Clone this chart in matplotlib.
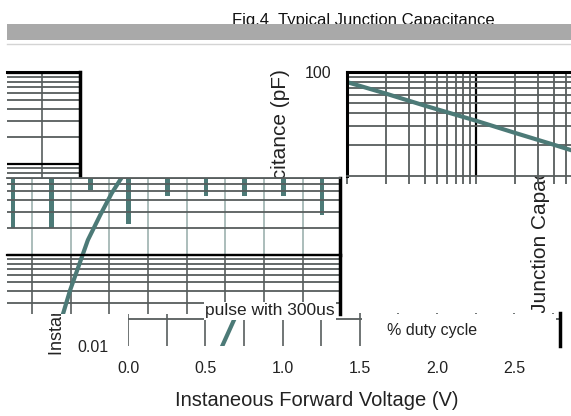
import numpy as np
import matplotlib.pyplot as plt
from matplotlib.patches import Rectangle
from matplotlib.lines import Line2D
from matplotlib.ticker import LogLocator, MultipleLocator, FixedLocator, NullFormatter

plt.rcParams['font.family'] = ['Liberation Sans', 'DejaVu Sans']

# Fig.4 junction capacitance vs reverse voltage
vr = [1, 2, 4, 10, 20, 40, 100]
cj = [80, 62, 47.5, 34, 26, 20, 14]

# forward characteristic (the sheet's broken forward-voltage chart)
vf = [0.61, 0.69, 0.745, 0.81, 0.86, 0.94, 1.015, 1.09]
i_f = [0.01, 0.02, 0.041, 0.084, 0.146, 0.275, 0.48, 0.76]

# stray teal bars in the broken strip
bar_v = [0.375, 0.625, 0.875, 1.125, 1.375, 1.625, 1.875, 2.125, 2.375]
bar_low = [0.2, 0.2, 0.52, 0.22, 0.44, 0.44, 0.44, 0.44, 0.275]
bar_top = 0.7

vticks = [0.0, 0.5, 1.0, 1.5, 2.0, 2.5]
vtick_labels = ['0.0', '0.5', '1.0', '1.5', '2.0', '2.5']

TEAL = '#4c7a77'
GRID = '#575d5d'
LIGHT = '#9db1af'
TXT = '#222222'

W, H = 571, 416
fig = plt.figure(figsize=(W / 100, H / 100), dpi=100)


def box(x0, y0, x1, y1, z):
    ax = fig.add_axes([x0 / W, 1 - y1 / H, (x1 - x0) / W, (y1 - y0) / H])
    ax.set_zorder(z)
    return ax


# pixel scale of the forward chart
X0, PX_V = 128, 154.5
Y1A, PX_DEC = 164, 91


def volts(x, shift):
    return (x + shift - X0) / PX_V


def amps(y):
    return 10 ** ((Y1A - y) / PX_DEC)


def iv_piece(x0, y0, x1, y1, shift, z, vcol=GRID):
    ax = box(x0, y0, x1, y1, z)
    ax.set_yscale('log')
    ax.set_xlim(volts(x0, shift), volts(x1, shift))
    ax.set_ylim(amps(y1), amps(y0))
    ax.xaxis.set_major_locator(MultipleLocator(0.25))
    ax.yaxis.set_major_locator(LogLocator(10, numticks=20))
    ax.yaxis.set_minor_locator(LogLocator(10, subs=np.arange(2, 10), numticks=20))
    ax.grid(axis='x', which='major', color=vcol, lw=1.2)
    ax.grid(axis='y', which='minor', color=GRID, lw=1.3)
    ax.grid(axis='y', which='major', color='black', lw=1.6)
    ax.tick_params(which='both', length=0, labelbottom=False, labelleft=False)
    for s in ax.spines.values():
        s.set_visible(False)
    ax.plot(vf, i_f, color=TEAL, lw=3)
    return ax


# title + grey band
fig.text(363 / W, 1 - 24.5 / H, 'Fig.4  Typical Junction Capacitance', ha='center',
         va='baseline', fontsize=12, color='#111111', zorder=1)
fig.add_artist(Rectangle((7 / W, 1 - 40 / H), 564 / W, 16 / H, transform=fig.transFigure,
                         facecolor='#a9a9a9', edgecolor='none', zorder=2))
fig.add_artist(Line2D([7 / W, 1], [1 - 43.5 / H] * 2, transform=fig.transFigure,
                      color='#d4d4d4', lw=1, zorder=2))

# axis titles sitting under the pieces
fig.text(280 / W, 1 - 69 / H, 'Junction Capacitance (pF)', rotation=90, ha='center',
         va='top', fontsize=15, color=TXT, zorder=0.5)
fig.text(540 / W, 1 - 313 / H, 'Junction Capacitance (pF)', rotation=90, ha='center',
         va='bottom', fontsize=15, color=TXT, zorder=0.5)
fig.text(58 / W, 1 - 355 / H, 'Instaneous Forward Current (A)', rotation=90, ha='center',
         va='bottom', fontsize=13, color=TXT, zorder=0.5)

# capacitance chart
axc = box(347, 72, 605, 176, 3)
axc.set_xscale('log')
axc.set_yscale('log')
axc.set_xlim(1, 100)
axc.set_ylim(10, 100)
axc.plot(vr, cj, color=TEAL, lw=3)
axc.grid(which='minor', color=GRID, lw=1.3)
axc.grid(which='major', color='black', lw=1.6)
axc.set_yticks([100], labels=['100'])
axc.yaxis.set_minor_formatter(NullFormatter())
axc.xaxis.set_minor_formatter(NullFormatter())
axc.tick_params(axis='y', which='both', length=0, pad=11, labelsize=11.5, labelcolor=TXT)
axc.tick_params(axis='x', which='both', direction='out', length=6, width=1.3,
                color=GRID, labelbottom=False)
axc.spines['right'].set_visible(False)
for side in ['top', 'left']:
    axc.spines[side].set_linewidth(2.2)
axc.spines['bottom'].set_color(GRID)
axc.spines['bottom'].set_linewidth(1.3)

# broken pieces of the forward chart
ax1 = iv_piece(7, 72, 80, 178, 434, 2)
ax1.spines['top'].set_visible(True)
ax1.spines['top'].set_linewidth(2.2)
ax1.spines['right'].set_visible(True)
ax1.spines['right'].set_linewidth(2.5)

ax2 = iv_piece(7, 178, 340, 255, 173, 2, vcol=LIGHT)
ax2.bar(bar_v, [bar_top - b for b in bar_low], bottom=bar_low, width=0.03, color=TEAL)
ax2.spines['right'].set_visible(True)
ax2.spines['right'].set_linewidth(2.5)
ax2.spines['top'].set_visible(True)
ax2.spines['top'].set_color(GRID)
ax2.spines['top'].set_linewidth(1.3)

ax3 = iv_piece(7, 255, 340, 314, 173, 2)
ax3.spines['right'].set_visible(True)
ax3.spines['right'].set_linewidth(2.5)
ax3.spines['top'].set_visible(True)
ax3.spines['top'].set_linewidth(1.6)

# bottom strip with the voltage axis
ax4 = box(128, 313, 560, 346, 1)
ax4.set_yscale('log')
ax4.set_xlim(0, volts(560, 0))
ax4.set_ylim(amps(346), amps(313))
ax4.plot(vf, i_f, color=TEAL, lw=3)
ax4.set_xticks(vticks, labels=vtick_labels)
ax4.xaxis.set_minor_locator(MultipleLocator(0.25))
ax4.xaxis.remove_overlapping_locs = False
ax4.set_yticks([0.01], labels=['0.01'])
ax4.yaxis.set_minor_locator(FixedLocator([0.02]))
ax4.yaxis.set_minor_formatter(NullFormatter())
ax4.grid(axis='x', which='minor', color=GRID, lw=1.2)
ax4.grid(axis='y', which='minor', color=GRID, lw=1.3)
ax4.tick_params(which='both', length=0)
ax4.tick_params(axis='x', pad=11, labelsize=11.5, labelcolor=TXT)
ax4.tick_params(axis='y', pad=14, labelsize=11.5, labelcolor=TXT)
for side in ['top', 'left', 'bottom']:
    ax4.spines[side].set_visible(False)
ax4.spines['right'].set_linewidth(2.5)
ax4.set_xlabel('Instaneous Forward Voltage (V)', fontsize=14.5, color=TXT)
ax4.xaxis.set_label_coords(0.4375, -1.35)

# note text
fig.add_artist(Rectangle((362 / W, 1 - 346 / H), 194 / W, 32 / H, transform=fig.transFigure,
                         facecolor='white', edgecolor='none', zorder=1.5))
fig.text(270 / W, 1 - 311 / H, 'pulse with 300us', ha='center', va='center', fontsize=12.5,
         color=TXT, zorder=5, bbox=dict(facecolor='white', edgecolor='none', pad=1))
fig.text(432 / W, 1 - 330 / H, '% duty cycle', ha='center', va='center', fontsize=11.5,
         color=TXT, zorder=5)

fig.savefig('out.png', dpi=100)
